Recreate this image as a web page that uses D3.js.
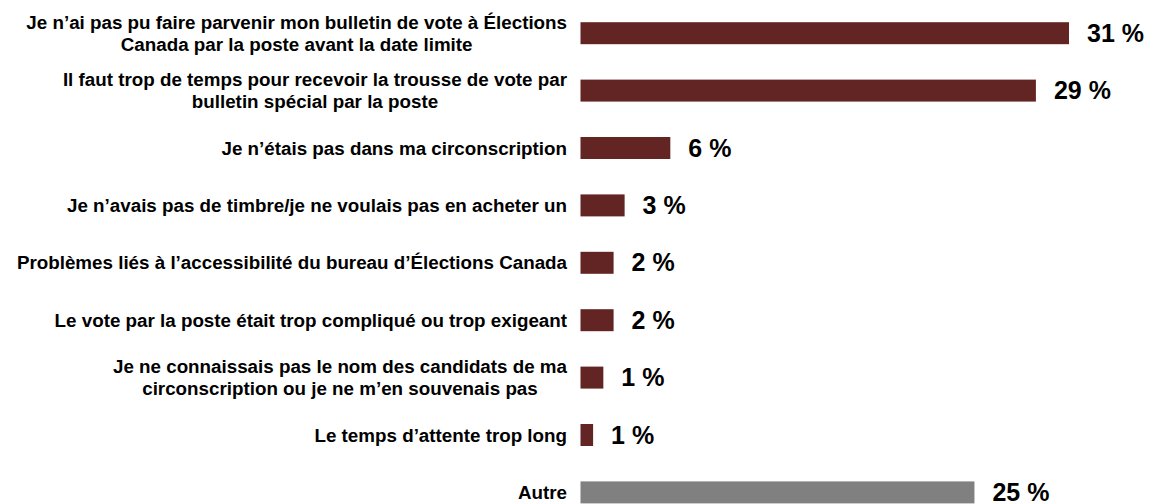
<!DOCTYPE html>
<html><head><meta charset="utf-8">
<script src="https://cdn.jsdelivr.net/npm/d3@7"></script>
<style>body{margin:0;background:#fff}svg{display:block}</style>
</head><body>
<svg id="chart" width="1149" height="504"></svg>
<script>
const categories = [
  ["Je n’ai pas pu faire parvenir mon bulletin de vote à Élections", "Canada par la poste avant la date limite"],
  ["Il faut trop de temps pour recevoir la trousse de vote par", "bulletin spécial par la poste"],
  ["Je n’étais pas dans ma circonscription"],
  ["Je n’avais pas de timbre/je ne voulais pas en acheter un"],
  ["Problèmes liés à l’accessibilité du bureau d’Élections Canada"],
  ["Le vote par la poste était trop compliqué ou trop exigeant"],
  ["Je ne connaissais pas le nom des candidats de ma", "circonscription ou je ne m’en souvenais pas"],
  ["Le temps d’attente trop long"],
  ["Autre"]
];
const values = [31, 28.9, 5.7, 2.8, 2.1, 2.1, 1.45, 0.8, 25];
const valueLabels = ["31 %", "29 %", "6 %", "3 %", "2 %", "2 %", "1 %", "1 %", "25 %"];
const barColors = ["#632523","#632523","#632523","#632523","#632523","#632523","#632523","#632523","#808080"];

const svg = d3.select("#chart");
const x = d3.scaleLinear().domain([0, 31]).range([580.5, 1069]);
const y = d3.scaleBand().domain(d3.range(categories.length)).range([4.5, 521.1]).paddingInner(0.617).paddingOuter(0.3085);

const g = svg.append("g");
g.selectAll("rect").data(values).join("rect")
  .attr("x", x(0))
  .attr("y", (d,i) => y(i))
  .attr("width", d => x(d) - x(0))
  .attr("height", y.bandwidth())
  .attr("fill", (d,i) => barColors[i]);

g.selectAll("text.val").data(values).join("text")
  .attr("class","val")
  .attr("x", d => x(d) + 18)
  .attr("y", (d,i) => y(i) + y.bandwidth()/2)
  .attr("dy", "0.34em")
  .attr("font-family", "Liberation Sans, Arial, sans-serif")
  .attr("font-weight", "bold")
  .attr("font-size", 25)
  .attr("fill", "#000")
  .text((d,i) => valueLabels[i]);

const labelRight = 567;
const lineH = 21.5;
categories.forEach((lines, i) => {
  const cy = y(i) + y.bandwidth()/2;
  const grp = g.append("g");
  const texts = lines.map((t, k) => grp.append("text")
    .attr("font-family", "Liberation Sans, Arial, sans-serif")
    .attr("font-weight", "bold")
    .attr("font-size", 18.8)
    .attr("text-anchor", "middle")
    .attr("y", cy + (k - (lines.length-1)/2) * lineH)
    .attr("dy", "0.35em")
    .attr("fill", "#000")
    .text(t));
  const maxW = d3.max(texts, t => t.node().getComputedTextLength());
  texts.forEach(t => t.attr("x", labelRight - maxW/2));
});
</script>
</body></html>
